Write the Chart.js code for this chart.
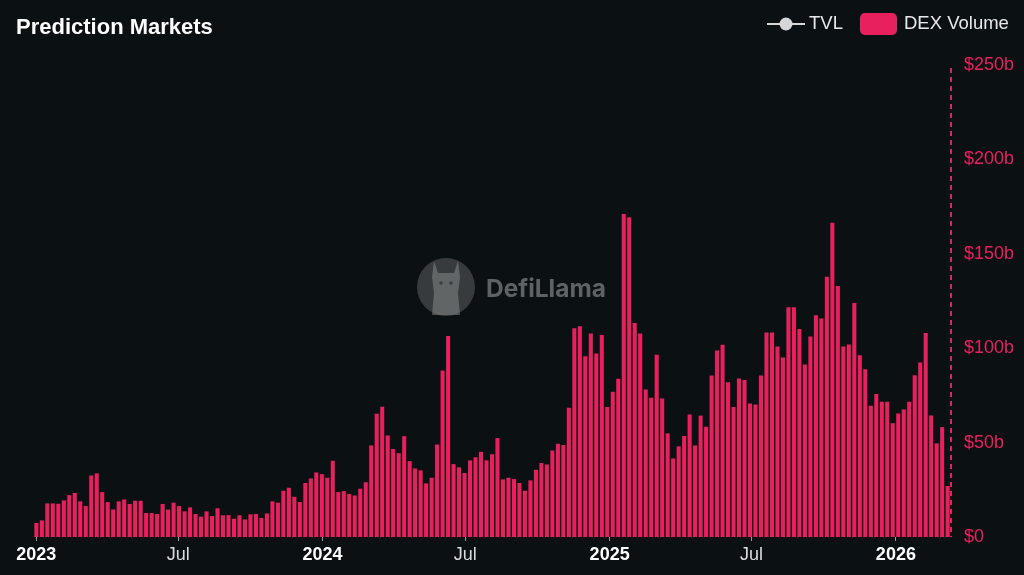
<!DOCTYPE html>
<html><head><meta charset="utf-8">
<script src="https://cdn.jsdelivr.net/npm/chart.js@4.4.1/dist/chart.umd.min.js"></script>
<style>html,body{margin:0;padding:0;background:#0b1013;}#wrap{width:1024px;height:575px;position:relative}</style>
</head><body><div id="wrap"><canvas id="c" width="1024" height="575"></canvas></div>
<script>
// ---- data ----
const firstWeek = '2023-01-01'; // weekly bars, one per week from this date
const dexVolume = [
  7.4, 8.8, 17.8, 17.8, 17.6, 19.4, 22.2, 23.3, 18.9, 16.4, 32.6, 33.7, 23.8, 18.5, 14.6, 18.9, 19.9, 17.5, 19.2, 19.2, 12.7, 12.7, 12.2, 17.5, 14.5, 18.2, 16.4, 13.6,
  15.7, 12.2, 10.8, 13.6, 11.1, 15.2, 11.5, 11.6, 9.7, 11.5, 9.3, 12.0, 12.2, 10.1, 12.5, 18.9, 18.2, 24.5, 26.1, 21.3, 18.5, 28.6, 31.0, 34.2, 33.3, 31.4, 40.4,
  23.8, 24.3, 22.8, 22.0, 25.6, 29.0, 48.5, 65.3, 69.0, 53.8, 46.6, 44.4, 53.4, 40.2, 36.3, 35.3, 28.4, 31.4, 49.0, 88.2, 106.5, 38.6, 36.9, 33.9, 40.6, 42.2, 45.1, 40.6, 43.8,
  52.4, 30.5, 31.4, 30.7, 28.6, 24.5, 30.0, 35.6, 39.2, 38.4, 45.8, 49.4, 48.7, 68.4, 110.6, 111.6, 95.8, 107.8, 97.2, 107.0, 68.8, 76.9, 83.8, 171.1, 169.3, 113.4, 107.8,
  78.1, 73.7, 96.5, 73.4, 54.9, 41.6, 48.0, 53.5, 64.9, 48.5, 64.3, 58.4, 85.6, 98.8, 101.8, 82.0, 68.9, 84.0, 83.1, 70.7, 70.2, 85.6, 108.3, 108.3, 100.9, 95.1, 121.7, 121.7,
  110.2, 91.4, 106.2, 117.5, 115.7, 137.9, 166.5, 133.0, 100.9, 102.0, 124.0, 96.2, 88.8, 69.5, 75.8, 71.6, 71.6, 60.3, 65.4, 67.6, 71.6, 85.7, 92.4, 108.0, 64.4, 49.6, 58.2, 27.0
];
const xTickDates = ['2023-01-01','2023-07-01','2024-01-01','2024-07-01','2025-01-01','2025-07-01','2026-01-01'];
const xTickLabels = ['2023','Jul','2024','Jul','2025','Jul','2026'];
const yTickValues = [0, 50, 100, 150, 200, 250];
const legendLabels = ['TVL', 'DEX Volume'];
const chartTitle = 'Prediction Markets';

// ---- helpers / styles ----
const PINK = '#e8215e';
const BG = '#0b1013';
const FONT = '"Liberation Sans", Arial, Helvetica, sans-serif';
const DAY = 86400000;
const dayNum = s => Date.parse(s + 'T00:00:00Z') / DAY;
const start = dayNum(firstWeek);
const points = dexVolume.map((v, i) => ({ x: start + i * 7, y: v }));
const lastX = start + (dexVolume.length - 1) * 7;

const bgPlugin = {
  id: 'bg',
  beforeDraw(chart) {
    const ctx = chart.ctx;
    ctx.save(); ctx.fillStyle = BG; ctx.fillRect(0, 0, chart.width, chart.height); ctx.restore();
  },
  beforeDatasetsDraw(chart) {
    // DefiLlama watermark
    const ctx = chart.ctx;
    ctx.save();
    const cx = 446, cy = 287;
    ctx.fillStyle = 'rgba(110,112,114,0.45)';
    ctx.beginPath(); ctx.arc(cx, cy, 29, 0, Math.PI * 2); ctx.fill();
    ctx.fillStyle = 'rgba(150,152,154,0.45)';
    ctx.beginPath();
    ctx.moveTo(cx - 12, cy - 26); ctx.lineTo(cx - 8, cy - 14); ctx.lineTo(cx + 8, cy - 14); ctx.lineTo(cx + 12, cy - 26);
    ctx.lineTo(cx + 14, cy - 10); ctx.lineTo(cx + 12, cy + 6); ctx.lineTo(cx + 14, cy + 28);
    ctx.lineTo(cx - 14, cy + 28); ctx.lineTo(cx - 12, cy + 6); ctx.lineTo(cx - 14, cy - 10); ctx.closePath();
    ctx.fill();
    ctx.fillStyle = 'rgba(50,52,54,0.8)';
    ctx.beginPath(); ctx.arc(cx - 5, cy - 4, 1.8, 0, Math.PI * 2); ctx.arc(cx + 5, cy - 4, 1.8, 0, Math.PI * 2); ctx.fill();
    let size = 26;
    ctx.font = `bold ${size}px Inter, Roboto, sans-serif`;
    const w = ctx.measureText('DefiLlama').width;
    size = size * 120 / w;
    ctx.font = `bold ${size}px Inter, Roboto, sans-serif`;
    ctx.fillStyle = 'rgba(110,113,115,0.85)';
    ctx.textBaseline = 'middle';
    ctx.fillText('DefiLlama', 486, 290);
    ctx.restore();
  },
  afterDatasetsDraw(chart) {
    // dashed right axis line
    const ctx = chart.ctx, y = chart.scales.y;
    ctx.save();
    ctx.strokeStyle = PINK; ctx.lineWidth = 2; ctx.setLineDash([5, 4]);
    ctx.beginPath(); ctx.moveTo(y.left + 1, chart.chartArea.top + 3); ctx.lineTo(y.left + 1, chart.chartArea.bottom); ctx.stroke();
    ctx.restore();
  },
  afterDraw(chart) {
    const ctx = chart.ctx;
    ctx.save();
    ctx.textBaseline = 'middle';
    ctx.fillStyle = '#ffffff';
    ctx.font = `bold 22px ${FONT}`;
    ctx.fillText(chartTitle, 16, 28);
    // legend
    ctx.font = `18.5px ${FONT}`;
    ctx.strokeStyle = '#d6d6d6'; ctx.lineWidth = 2;
    ctx.beginPath(); ctx.moveTo(767, 24); ctx.lineTo(805, 24); ctx.stroke();
    ctx.fillStyle = '#d6d6d6';
    ctx.beginPath(); ctx.arc(786, 24, 6.5, 0, Math.PI * 2); ctx.fill();
    ctx.fillStyle = '#e8e8e8';
    ctx.fillText(legendLabels[0], 809, 24);
    ctx.fillStyle = PINK;
    ctx.beginPath(); ctx.roundRect(860, 13, 37, 22, 5); ctx.fill();
    ctx.fillStyle = '#e8e8e8';
    ctx.fillText(legendLabels[1], 904, 24);
    ctx.restore();
  }
};

new Chart(document.getElementById('c'), {
  type: 'bar',
  data: {
    datasets: [{
      label: legendLabels[1],
      data: points,
      backgroundColor: PINK,
      borderWidth: 0,
      barPercentage: 0.74,
      categoryPercentage: 1
    }]
  },
  options: {
    responsive: false,
    animation: false,
    devicePixelRatio: 1,
    layout: { padding: { top: 65, left: 34, right: 0, bottom: 0 } },
    plugins: { legend: { display: false }, tooltip: { enabled: false }, title: { display: false } },
    scales: {
      x: {
        type: 'linear',
        min: start - 3,
        max: lastX + 3,
        offset: false,
        grid: { display: true, offset: false, drawOnChartArea: false, drawTicks: true, tickLength: 4, color: 'rgba(215,215,215,0.7)', lineWidth: 1 },
        border: { display: false },
        afterBuildTicks: s => { s.ticks = xTickDates.map(d => ({ value: dayNum(d) })); },
        afterFit: s => { s.height = 38; },
        ticks: {
          autoSkip: false, maxRotation: 0, minRotation: 0, padding: 3,
          callback: (v, i) => xTickLabels[i],
          color: c => (xTickLabels[c.index] === 'Jul' ? '#dcdcdc' : '#ffffff'),
          font: c => ({ family: FONT, size: 18, weight: xTickLabels[c.index] === 'Jul' ? 'normal' : 'bold' })
        }
      },
      y: {
        position: 'right',
        min: 0, max: 250,
        grid: { display: false },
        border: { display: false },
        afterBuildTicks: s => { s.ticks = yTickValues.map(v => ({ value: v })); },
        afterFit: s => { s.width = 74; },
        ticks: {
          padding: 6,
          color: PINK,
          font: { family: FONT, size: 18 },
          callback: v => (v === 0 ? '$0' : '$' + v + 'b')
        }
      }
    }
  },
  plugins: [bgPlugin]
});
</script>
</body></html>
